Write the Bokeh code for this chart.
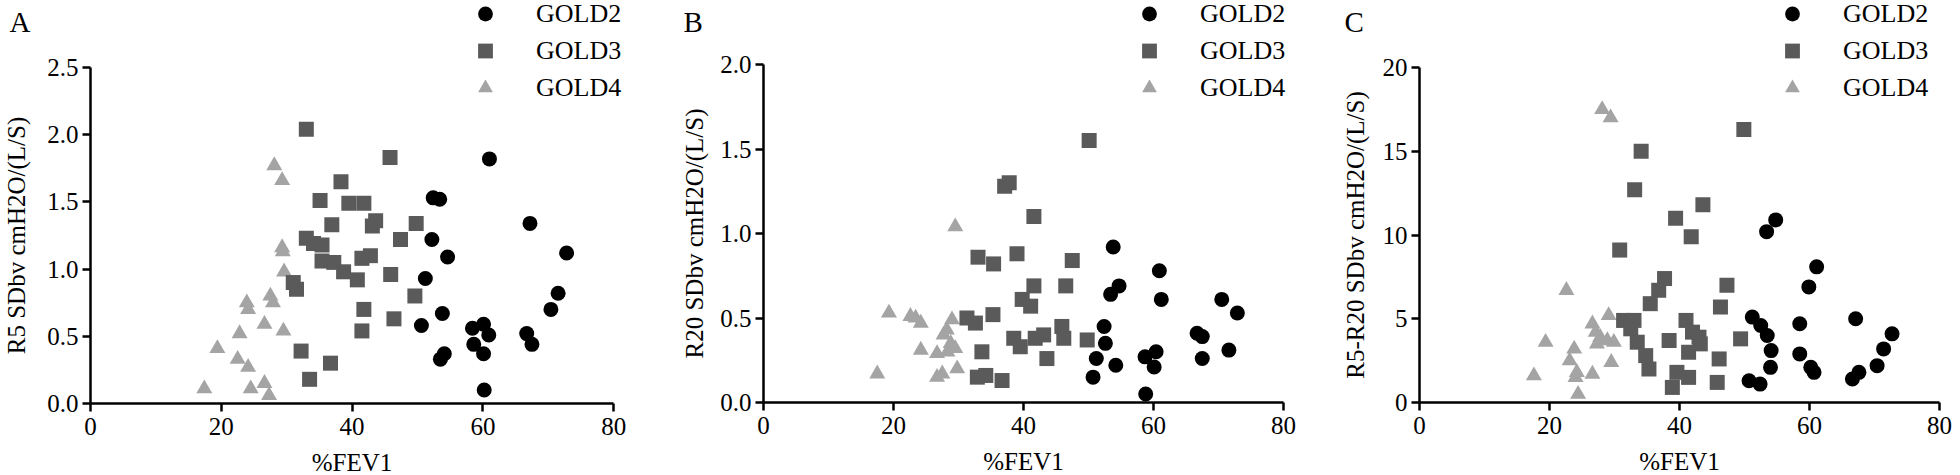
from bokeh.plotting import figure
from bokeh.layouts import row
from bokeh.models import Legend, LegendItem, Label, FixedTicker, Range1d, PrintfTickFormatter
from bokeh.embed import file_html
from bokeh.resources import INLINE

FONT = "Liberation Serif"

series_labels = ["GOLD2", "GOLD3", "GOLD4"]
panel_letters = ["A", "B", "C"]
x_ticks = [0, 20, 40, 60, 80]
y_ticks_A = [0.0, 0.5, 1.0, 1.5, 2.0, 2.5]
y_ticks_B = [0.0, 0.5, 1.0, 1.5, 2.0]
y_ticks_C = [0, 5, 10, 15, 20]

# ---------------- Panel A : R5 SDbv ----------------
A_g2_fev = [61.0, 52.4, 53.4, 67.2, 52.2, 54.6, 72.8, 51.2, 71.5, 70.4, 53.8,
            50.6, 58.4, 60.1, 60.9, 58.6, 60.1, 66.7, 67.5, 53.5, 54.1, 60.2]
A_g2_val = [1.82, 1.53, 1.52, 1.34, 1.22, 1.09, 1.12, 0.93, 0.82, 0.70, 0.67,
            0.58, 0.56, 0.59, 0.51, 0.44, 0.37, 0.52, 0.44, 0.33, 0.37, 0.10]
A_g3_fev = [33.0, 45.8, 38.3, 35.1, 39.5, 41.8, 36.9, 43.1, 43.6, 49.8, 47.4,
            33.0, 34.1, 35.4, 35.4, 37.2, 38.7, 40.8, 41.5, 42.8, 45.9, 31.0,
            31.5, 41.8, 41.5, 46.4, 49.6, 32.2, 36.7, 33.5]
A_g3_val = [2.04, 1.83, 1.65, 1.51, 1.49, 1.49, 1.33, 1.32, 1.36, 1.34, 1.22,
            1.23, 1.19, 1.18, 1.06, 1.05, 0.98, 0.92, 1.08, 1.10, 0.96, 0.90,
            0.85, 0.70, 0.54, 0.63, 0.80, 0.39, 0.30, 0.18]
A_g4_fev = [17.4, 19.4, 22.5, 22.8, 23.9, 24.1, 24.1, 24.5, 26.6, 26.6, 27.3,
            27.5, 27.9, 28.1, 29.3, 29.3, 29.4, 29.6, 29.5]
A_g4_val = [0.11, 0.41, 0.33, 0.52, 0.75, 0.70, 0.27, 0.11, 0.59, 0.15, 0.06,
            0.80, 0.75, 1.77, 1.66, 1.16, 1.13, 0.98, 0.54]

# ---------------- Panel B : R20 SDbv ----------------
B_g2_fev = [53.8, 60.9, 54.7, 53.4, 61.2, 70.5, 72.9, 52.4, 52.6, 66.7, 67.5,
            51.2, 54.2, 58.7, 60.4, 60.1, 67.5, 71.6, 50.7, 58.8]
B_g2_val = [0.92, 0.78, 0.69, 0.64, 0.61, 0.61, 0.53, 0.45, 0.35, 0.41, 0.39,
            0.26, 0.22, 0.27, 0.30, 0.21, 0.26, 0.31, 0.15, 0.05]
B_g3_fev = [50.1, 37.1, 37.8, 41.6, 33.0, 35.4, 39.0, 47.5, 41.6, 46.5, 39.8,
            41.1, 35.3, 31.3, 32.6, 45.9, 38.5, 39.5, 41.8, 43.1, 46.2, 49.8,
            33.6, 43.6, 32.9, 34.2, 36.7]
B_g3_val = [1.55, 1.28, 1.30, 1.10, 0.86, 0.82, 0.88, 0.84, 0.69, 0.69, 0.61,
            0.57, 0.52, 0.50, 0.47, 0.45, 0.38, 0.33, 0.38, 0.40, 0.38, 0.37,
            0.30, 0.26, 0.15, 0.16, 0.13]
B_g4_fev = [17.5, 19.3, 22.6, 23.4, 24.2, 24.2, 26.7, 26.7, 27.5, 29.8, 27.7,
            28.2, 29.0, 28.8, 29.5, 28.3, 29.5]
B_g4_val = [0.17, 0.53, 0.51, 0.50, 0.47, 0.31, 0.29, 0.15, 0.17, 0.20, 0.40,
            0.43, 0.49, 0.35, 0.32, 0.30, 1.04]

# ---------------- Panel C : R5-R20 SDbv ----------------
C_g2_fev = [54.8, 53.4, 61.1, 59.9, 51.2, 67.1, 52.5, 53.5, 58.5, 72.7, 71.4,
            54.1, 58.5, 70.4, 54.0, 60.2, 60.7, 67.6, 66.6, 50.7, 52.4]
C_g2_val = [10.9, 10.2, 8.1, 6.9, 5.1, 5.0, 4.6, 4.0, 4.7, 4.1, 3.2,
            3.1, 2.9, 2.2, 2.1, 2.1, 1.8, 1.8, 1.4, 1.3, 1.1]
C_g3_fev = [49.9, 34.1, 33.1, 43.6, 39.4, 41.8, 30.8, 37.7, 47.3, 36.8, 35.5,
            46.3, 31.4, 33.0, 32.5, 33.5, 34.8, 35.3, 38.4, 41.0, 42.0, 43.0,
            43.2, 41.4, 39.6, 41.4, 38.9, 46.1, 45.8, 49.4]
C_g3_val = [16.3, 15.0, 12.7, 11.8, 11.0, 9.9, 9.1, 7.4, 7.0, 6.7, 5.9,
            5.7, 4.9, 4.9, 4.4, 3.6, 2.8, 2.0, 3.7, 4.9, 4.2, 3.9,
            3.5, 3.0, 1.8, 1.5, 0.9, 2.6, 1.2, 3.8]
C_g4_fev = [28.1, 29.4, 22.6, 29.1, 26.6, 27.1, 27.8, 28.9, 29.9, 27.3, 19.4,
            23.8, 23.1, 29.5, 24.2, 24.0, 26.6, 17.6, 24.4]
C_g4_val = [17.5, 17.0, 6.7, 5.2, 4.7, 4.2, 3.9, 3.7, 3.6, 3.5, 3.6,
            3.2, 2.5, 2.4, 1.8, 1.5, 1.7, 1.6, 0.5]

COL2, COL3, COL4 = "#000000", "#5a5a5a", "#a4a4a4"

H = 475


def panel(width, left, sx, y0px, ytop_px, letter, letter_px, ylabel, yticks,
          ytop, fmt, ylab_standoff, g2, g3, g4, legend_x):
    sy = (y0px - ytop_px) / ytop
    x_range = Range1d(-left / sx, (width - left) / sx)
    y_range = Range1d(-(H - y0px) / sy, y0px / sy)
    p = figure(width=width, height=H, x_range=x_range, y_range=y_range,
               output_backend="svg", toolbar_location=None, min_border=0,
               min_border_left=0, min_border_right=0, min_border_top=0,
               min_border_bottom=0)
    p.grid.visible = False
    p.outline_line_color = None
    p.background_fill_color = "white"
    p.border_fill_color = "white"

    for ax in (p.xaxis[0], p.yaxis[0]):
        ax.fixed_location = 0
        ax.axis_line_width = 2.5
        ax.axis_line_color = "black"
        ax.major_tick_line_width = 2.5
        ax.major_tick_line_color = "black"
        ax.major_tick_out = 8
        ax.major_tick_in = 0
        ax.minor_tick_line_color = None
        ax.major_label_text_font = FONT
        ax.major_label_text_font_size = "25px"
        ax.major_label_text_color = "black"
        ax.axis_label_text_font = FONT
        ax.axis_label_text_font_size = "25px"
        ax.axis_label_text_font_style = "normal"
        ax.axis_label_text_color = "black"
    xa = p.xaxis[0]
    xa.ticker = FixedTicker(ticks=x_ticks)
    xa.bounds = (0, 80)
    xa.axis_label = "%FEV1"
    xa.major_label_standoff = 6
    xa.axis_label_standoff = 11
    ya = p.yaxis[0]
    ya.ticker = FixedTicker(ticks=yticks)
    ya.bounds = (0, ytop)
    ya.axis_label = ylabel
    ya.major_label_standoff = 4
    ya.axis_label_standoff = ylab_standoff
    if fmt:
        ya.formatter = PrintfTickFormatter(format=fmt)

    r4 = p.scatter(g4[0], g4[1], marker="triangle", size=16,
                   fill_color=COL4, line_color=None)
    r3 = p.scatter(g3[0], g3[1], marker="square", size=15,
                   fill_color=COL3, line_color=None)
    r2 = p.scatter(g2[0], g2[1], marker="circle", size=15,
                   fill_color=COL2, line_color=None)

    gh, gw = 37, 40
    top = -5
    leg = Legend(items=[LegendItem(label=series_labels[0], renderers=[r2]),
                        LegendItem(label=series_labels[1], renderers=[r3]),
                        LegendItem(label=series_labels[2], renderers=[r4])],
                 location=(legend_x, H - (top + 3 * gh)),
                 orientation="vertical", glyph_width=gw, glyph_height=gh,
                 spacing=0, padding=0, margin=0, label_standoff=31,
                 label_text_font=FONT, label_text_font_size="26px",
                 label_text_color="black",
                 border_line_color=None, background_fill_alpha=0)
    p.add_layout(leg)

    lx, ly = letter_px
    p.add_layout(Label(x=(lx - left) / sx, y=(y0px - ly) / sy, x_units="data",
                       y_units="data", text=letter, text_font=FONT,
                       text_font_size="29px", text_baseline="alphabetic",
                       text_align="left", text_color="black"))
    return p


pA = panel(670, 90, 6.54, 403, 67, panel_letters[0], (9, 21),
           "R5 SDbv cmH2O/(L/S)", y_ticks_A, 2.5, "%.1f", 14,
           (A_g2_fev, A_g2_val), (A_g3_fev, A_g3_val), (A_g4_fev, A_g4_val), 465)
pB = panel(660, 93, 6.5, 402, 64, panel_letters[1], (13, 21),
           "R20 SDbv cmH2O/(L/S)", y_ticks_B, 2.0, "%.1f", 9,
           (B_g2_fev, B_g2_val), (B_g3_fev, B_g3_val), (B_g4_fev, B_g4_val), 459)
pC = panel(630, 89, 6.5, 402, 67, panel_letters[2], (14, 21),
           "R5-R20 SDbv cmH2O/(L/S)", y_ticks_C, 20, None, 11,
           (C_g2_fev, C_g2_val), (C_g3_fev, C_g3_val), (C_g4_fev, C_g4_val), 442)

layout = row(pA, pB, pC, spacing=0)
open("out.html", "w").write(file_html(layout, INLINE))
